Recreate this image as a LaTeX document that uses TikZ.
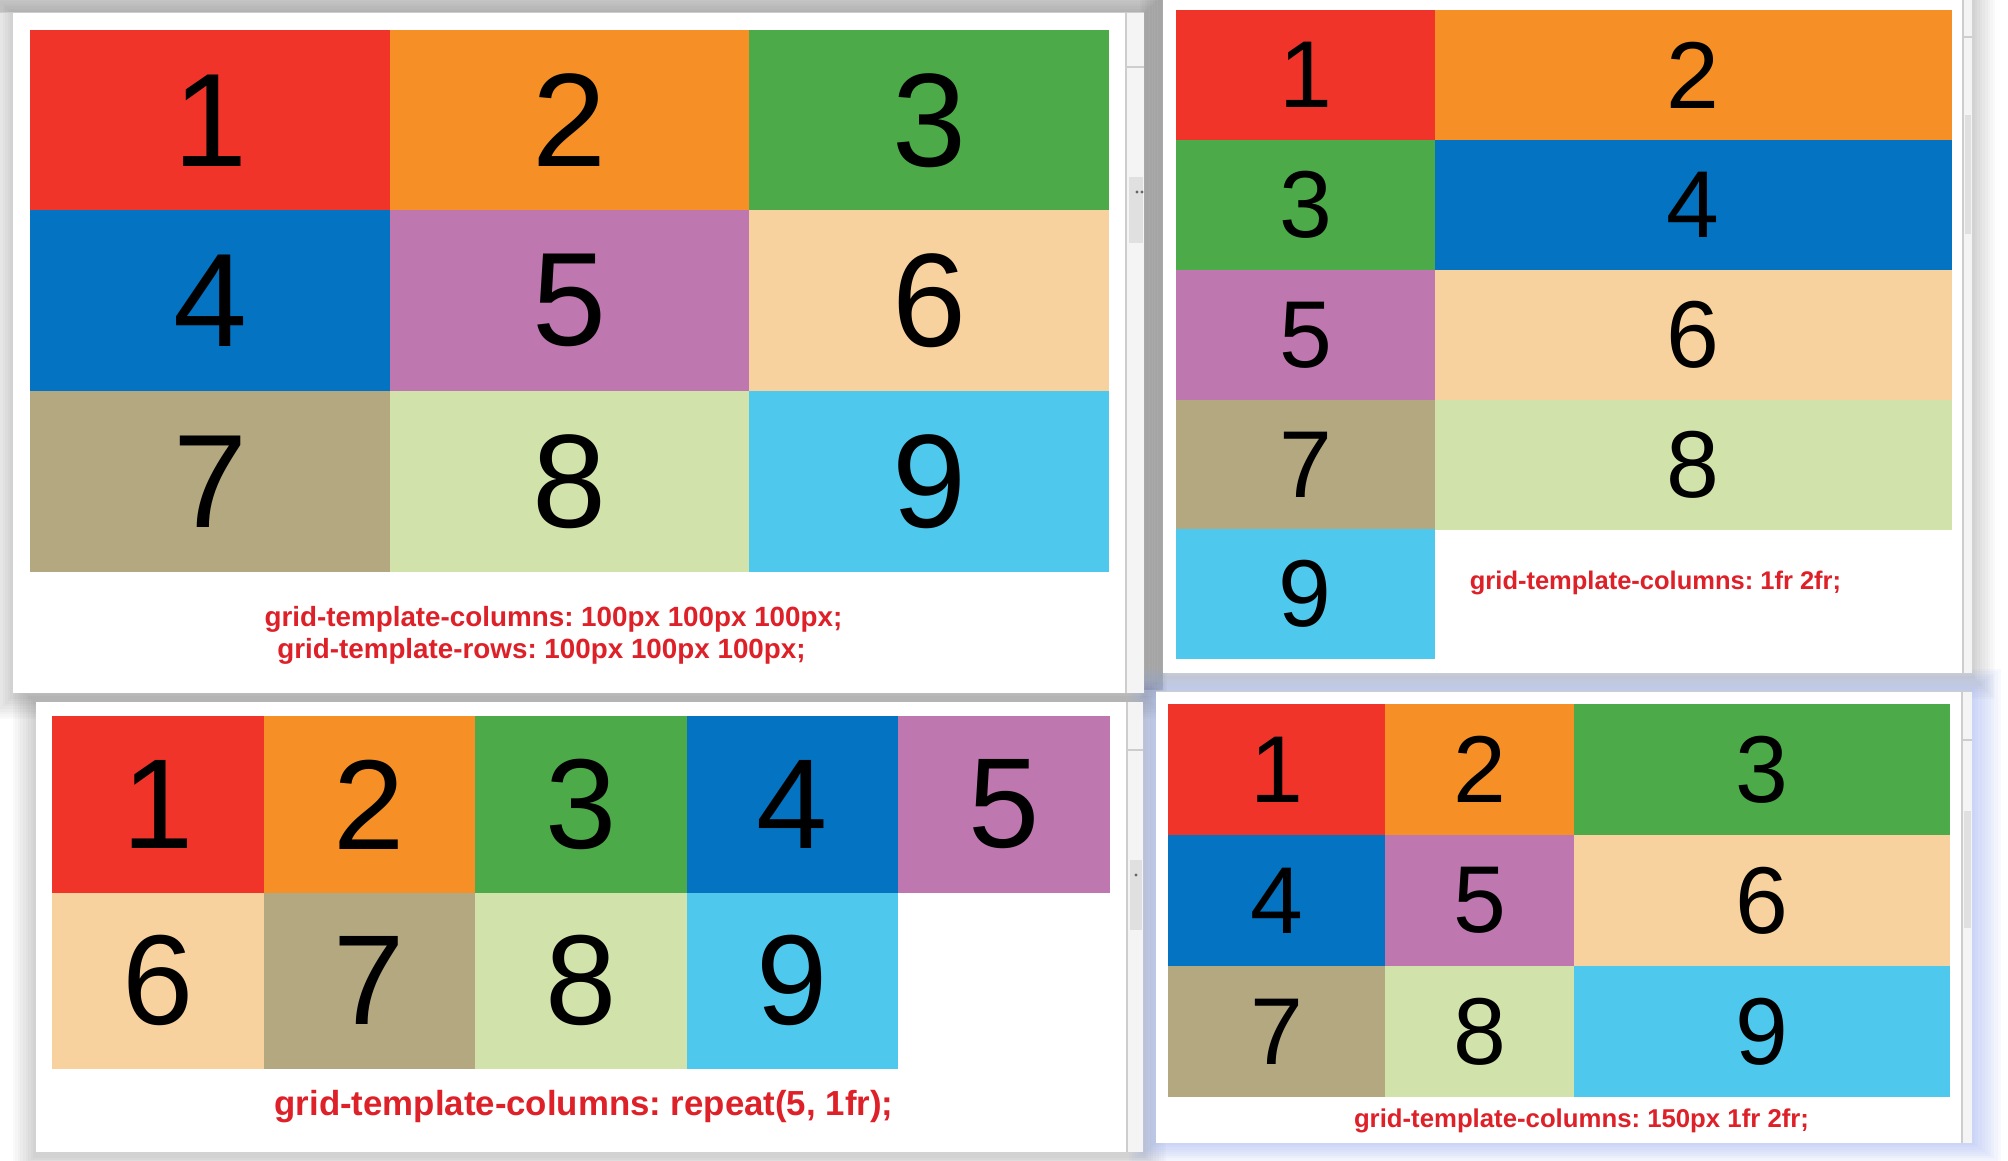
\documentclass[tikz,border=0pt]{standalone}
\usepackage{fontspec}
\setmainfont{Liberation Sans}
\frenchspacing
\definecolor{cRed}{RGB}{240,52,42}
\definecolor{cOra}{RGB}{246,144,38}
\definecolor{cGre}{RGB}{76,170,72}
\definecolor{cBlu}{RGB}{4,116,194}
\definecolor{cPur}{RGB}{191,119,175}
\definecolor{cPea}{RGB}{248,210,158}
\definecolor{cKha}{RGB}{180,168,128}
\definecolor{cLgr}{RGB}{209,227,170}
\definecolor{cLbl}{RGB}{78,200,236}
\definecolor{cLab}{RGB}{222,32,40}
\definecolor{cGlow}{RGB}{140,165,240}
\definecolor{cTrack}{RGB}{244,244,244}
\definecolor{cLine}{RGB}{205,205,205}
\definecolor{cThumb}{RGB}{224,224,224}
\definecolor{cBar}{RGB}{216,216,216}
\tikzset{
  cell/.style={anchor=north west, inner sep=0pt, outer sep=0pt, draw=none, text=black},
  bigd/.style={font=\fontsize{133}{133}\selectfont},
  midd/.style={font=\fontsize{128}{128}\selectfont},
  smalld/.style={font=\fontsize{95}{95}\selectfont},
  lab/.style={text=cLab, inner sep=0pt, font=\bfseries\fontsize{#1}{#1}\selectfont},
  panel/.style={fill=white, draw=none},
  track/.style={fill=cTrack, draw=none},
  thumb/.style={fill=cThumb, draw=none},
  sline/.style={draw=cLine, line width=1.2pt},
}
\newcommand\mycell[8]{\node[cell, #8, fill=#6, minimum width=#4pt, minimum height=#5pt] (#1) at (#2,#3) {#7};}
\newcommand\softshadow[5]{%
  \foreach \i in {1,...,9}{\fill[#5, opacity=0.02] (#1-\i*2.6, #2-\i*2.6+2) rectangle (#3+\i*2.6, #4+\i*2.6+3);}}
\begin{document}
\begin{tikzpicture}[x=1pt, y=-1pt]
\useasboundingbox (0,0) rectangle (2008,1160);
\fill[white] (0,0) rectangle (2008,1160);
% top bar and gap strip
\fill[cBar] (0,0) rectangle (1163,12);
\fill[cBar] (1144,0) rectangle (1163,690);
% shadows
\softshadow{13}{12}{1144}{693}{black}
\softshadow{1163}{0}{1972}{673}{black}
\softshadow{36}{702}{1143}{1152}{black}
\foreach \i in {1,...,9}{\fill[cGlow, opacity=0.06] (1156-\i*3, 691-\i*2.5) rectangle (1972+\i*3.2, 1143+\i*2.2);}
% panels
\fill[panel] (13,13) rectangle (1126,693);
\fill[panel] (1163,0) rectangle (1963,673);
\fill[panel] (36,702) rectangle (1127,1152);
\fill[panel] (1156,691) rectangle (1962,1143);
% scrollbars
\fill[track] (1126,13) rectangle (1144,693);
\draw[sline] (1126,13) -- (1126,693);
\draw[sline] (1126,67) -- (1144,67);
\fill[thumb] (1129,177) rectangle (1143,243);
\fill[black!60] (1137,192) circle (1.6) (1142,192) circle (1.6);
\draw[cLine, line width=1pt] (0,12.5) -- (1144,12.5);
\fill[track] (1963,0) rectangle (1972,673);
\draw[sline] (1963,0) -- (1963,673);
\draw[sline] (1963,37) -- (1972,37);
\fill[thumb] (1965,115) rectangle (1971,234);
\fill[track] (1127,702) rectangle (1143,1152);
\draw[sline] (1127,702) -- (1127,1152);
\draw[sline] (1127,750) -- (1143,750);
\fill[thumb] (1130,860) rectangle (1142,930);
\fill[black!60] (1136,875) circle (1.6);
\fill[track] (1962,691) rectangle (1972,1143);
\draw[sline] (1962,691) -- (1962,1143);
\draw[sline] (1962,740) -- (1972,740);
\fill[thumb] (1964,811) rectangle (1971,928);
\draw[cLine, line width=1pt] (1156,691.5) -- (1972,691.5);
% panel 1: 3x3 grid
\mycell{a1}{30}{30}{360.5}{180.5}{cRed}{1}{bigd}
\mycell{a2}{390}{30}{359.5}{180.5}{cOra}{2}{bigd}
\mycell{a3}{749}{30}{360}{180.5}{cGre}{3}{bigd}
\mycell{a4}{30}{210}{360.5}{181.5}{cBlu}{4}{bigd}
\mycell{a5}{390}{210}{359.5}{181.5}{cPur}{5}{bigd}
\mycell{a6}{749}{210}{360}{181.5}{cPea}{6}{bigd}
\mycell{a7}{30}{391}{360.5}{181}{cKha}{7}{bigd}
\mycell{a8}{390}{391}{359.5}{181}{cLgr}{8}{bigd}
\mycell{a9}{749}{391}{360}{181}{cLbl}{9}{bigd}
\node[lab=27.8] (la1) at (553.5,619) {grid-template-columns: 100px 100px 100px;};
\node[lab=27.8] (la2) at (541.5,651) {grid-template-rows: 100px 100px 100px;};
% panel 2: 1fr 2fr
\mycell{b1}{1176}{10}{259}{130.5}{cRed}{1}{smalld}
\mycell{b2}{1434.5}{10}{517.5}{130.5}{cOra}{2}{smalld}
\mycell{b3}{1176}{140}{259}{130.5}{cGre}{3}{smalld}
\mycell{b4}{1434.5}{140}{517.5}{130.5}{cBlu}{4}{smalld}
\mycell{b5}{1176}{270}{259}{130}{cPur}{5}{smalld}
\mycell{b6}{1434.5}{270}{517.5}{130}{cPea}{6}{smalld}
\mycell{b7}{1176}{399.5}{259}{130}{cKha}{7}{smalld}
\mycell{b8}{1434.5}{399.5}{517.5}{130}{cLgr}{8}{smalld}
\mycell{b9}{1176}{529}{258.5}{130}{cLbl}{9}{smalld}
\node[lab=25.5] (lb) at (1655.5,583) {grid-template-columns: 1fr 2fr;};
% panel 3: repeat(5, 1fr)
\mycell{c1}{52}{716}{212}{177}{cRed}{1}{midd}
\mycell{c2}{263.5}{716}{212}{177}{cOra}{2}{midd}
\mycell{c3}{475}{716}{212}{177}{cGre}{3}{midd}
\mycell{c4}{686.5}{716}{212}{177}{cBlu}{4}{midd}
\mycell{c5}{898}{716}{211.5}{177}{cPur}{5}{midd}
\mycell{c6}{52}{892.5}{212}{176.5}{cPea}{6}{midd}
\mycell{c7}{263.5}{892.5}{212}{176.5}{cKha}{7}{midd}
\mycell{c8}{475}{892.5}{212}{176.5}{cLgr}{8}{midd}
\mycell{c9}{686.5}{892.5}{211.5}{176.5}{cLbl}{9}{midd}
\node[lab=34.8] (lc) at (584,1107) {grid-template-columns: repeat(5, 1fr);};
% panel 4: 150px 1fr 2fr
\mycell{d1}{1168}{704}{217.5}{131.5}{cRed}{1}{smalld}
\mycell{d2}{1385}{704}{189.5}{131.5}{cOra}{2}{smalld}
\mycell{d3}{1574}{704}{376}{131.5}{cGre}{3}{smalld}
\mycell{d4}{1168}{835}{217.5}{131.5}{cBlu}{4}{smalld}
\mycell{d5}{1385}{835}{189.5}{131.5}{cPur}{5}{smalld}
\mycell{d6}{1574}{835}{376}{131.5}{cPea}{6}{smalld}
\mycell{d7}{1168}{966}{217.5}{131}{cKha}{7}{smalld}
\mycell{d8}{1385}{966}{189.5}{131}{cLgr}{8}{smalld}
\mycell{d9}{1574}{966}{376}{131}{cLbl}{9}{smalld}
\node[lab=25.75] (ld) at (1581.5,1121) {grid-template-columns: 150px 1fr 2fr;};
\end{tikzpicture}
\end{document}
